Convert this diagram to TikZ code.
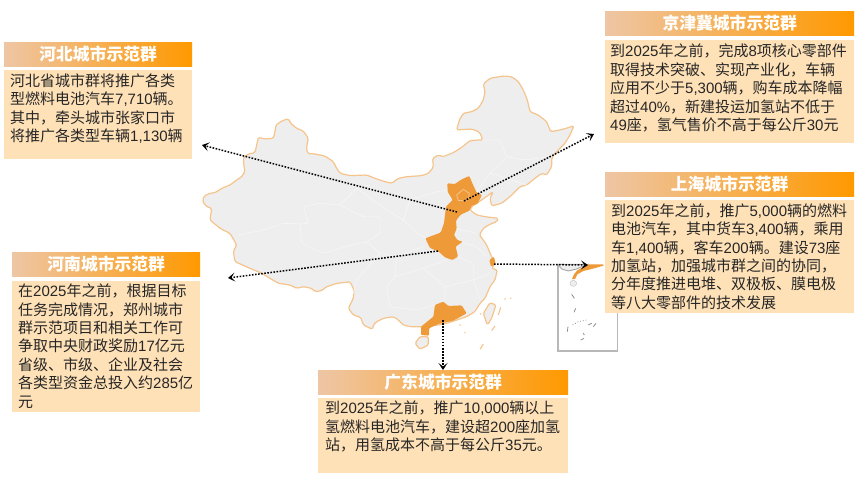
\documentclass[tikz,border=0pt]{standalone}
\usepackage{fontspec}
\setmainfont{Noto Sans CJK SC}
\newfontfamily\arialfont{Liberation Sans}
\newcommand{\nm}[1]{{\arialfont #1}}
\usetikzlibrary{arrows.meta,positioning}
\definecolor{headleft}{HTML}{EEC6A5}
\definecolor{headright}{HTML}{FF9900}
\definecolor{bodyfill}{HTML}{FFE1B7}
\definecolor{landfill}{HTML}{EEEEEE}
\definecolor{landedge}{HTML}{F5C48C}
\definecolor{cityfill}{HTML}{EE9A38}
\tikzset{
  headbox/.style={left color=headleft,right color=headright,draw=none,minimum height=24.5pt,inner sep=0pt,
    anchor=north west,text=white,font=\fontsize{16.8}{18}\selectfont\bfseries},
  bodybox/.style={fill=bodyfill,draw=none,inner sep=0pt,anchor=north west},
  bodytext/.style={anchor=north west,align=left,inner sep=0pt,text=black!85,font=\fontsize{15}{18.4}\selectfont},
  land/.style={fill=landfill,draw=landedge,line width=1.2pt,line join=round,rounded corners=1.5pt},
  border/.style={draw=white!96!black,line width=0.8pt,line join=round,rounded corners=1.5pt},
  city/.style={fill=cityfill,draw=none,rounded corners=1pt},
  islet/.style={draw=landedge,line width=1.1pt},
  insetmark/.style={draw=black!45,line width=0.8pt},
  link/.style={dash pattern=on 1.6pt off 1.5pt,line width=1.5pt,-{Stealth[length=7pt,width=9pt,inset=3.5pt]}}
}
\begin{document}
\begin{tikzpicture}[x=1pt,y=-1pt]
\useasboundingbox (0,0) rectangle (865,484);

% map, traced at 3x
\begin{scope}[shift={(190,60)},scale=1/3]
\draw[land] (38,425) -- (42,408) -- (60,400) -- (78,397) -- (95,385) -- (120,375) -- (140,360) -- (155,350) -- (165,335)
 -- (162,320) -- (160,292) -- (175,282) -- (195,278) -- (200,255) -- (205,232) -- (225,237) -- (250,235) -- (255,215)
 -- (258,195) -- (275,183) -- (295,176) -- (302,190) -- (320,205) -- (340,213) -- (355,235) -- (350,260) -- (352,280)
 -- (375,282) -- (405,288) -- (430,305) -- (440,325) -- (450,340) -- (480,347) -- (530,345) -- (555,355) -- (585,365)
 -- (605,370) -- (625,355) -- (650,350) -- (695,347) -- (715,340) -- (730,322) -- (728,295) -- (745,285) -- (760,290)
 -- (790,278) -- (815,262) -- (840,242) -- (865,240) -- (878,240) -- (870,218) -- (850,208) -- (825,208) -- (800,210)
 -- (808,180) -- (820,160) -- (845,155) -- (865,145) -- (880,120) -- (885,95) -- (880,72) -- (900,55) -- (940,48)
 -- (965,50) -- (985,65) -- (1000,90) -- (1012,120) -- (1020,155) -- (1045,165) -- (1070,185) -- (1082,215) -- (1110,210)
 -- (1135,203) -- (1152,197) -- (1140,225) -- (1125,250) -- (1095,280) -- (1085,295) -- (1085,320) -- (1070,345)
 -- (1055,340) -- (1035,355) -- (1010,375) -- (990,380) -- (960,410) -- (935,430) -- (905,438) -- (900,415) -- (910,395)
 -- (875,420) -- (845,440) -- (840,450) -- (860,465) -- (885,470) -- (925,475) -- (920,485) -- (895,495) -- (880,505)
 -- (868,525) -- (880,540) -- (890,555) -- (905,590) -- (915,610) -- (905,625) -- (922,630) -- (915,660) -- (900,680)
 -- (885,715) -- (870,730) -- (855,755) -- (830,770) -- (800,780) -- (770,790) -- (745,795) -- (700,800) -- (660,800)
 -- (640,795) -- (625,780) -- (610,770) -- (580,775) -- (560,785) -- (550,795) -- (548,808) -- (520,795) -- (512,772)
 -- (490,765) -- (475,745) -- (490,715) -- (492,690) -- (480,665) -- (460,668) -- (440,670) -- (410,680) -- (395,692)
 -- (375,695) -- (365,685) -- (340,680) -- (320,685) -- (300,675) -- (265,670) -- (240,655) -- (215,640) -- (180,625)
 -- (135,605) -- (130,575) -- (140,555) -- (120,520) -- (90,505) -- (60,480) -- (65,445) -- (50,440) -- cycle;
\draw[land] (675,850) -- (690,830) -- (715,830) -- (715,855) -- (690,868) -- cycle;
\draw[land] (880,760) -- (900,728) -- (918,735) -- (905,775) -- (892,795) -- cycle;
% islands
\draw[islet] (925,765) -- (932,742);
\draw[islet] (905,812) -- (915,798);
\draw[islet] (870,868) -- (880,852);
\foreach \x/\y in {945/717,962/715,810/795,825/818,872/762} \fill[landedge] (\x,\y) circle (2.5);
% provinces
\draw[border] (145,525) -- (220,510) -- (280,490) -- (330,492) -- (355,490) -- (340,440) -- (385,430) -- (450,435) -- (500,385) -- (540,375);
\draw[border] (330,492) -- (335,550) -- (400,580) -- (470,560) -- (530,545) -- (570,580) -- (620,590) -- (700,560);
\draw[border] (450,435) -- (520,470) -- (570,470) -- (570,520) -- (530,545);
\draw[border] (500,385) -- (590,450) -- (640,480) -- (680,520) -- (710,535);
\draw[border] (640,480) -- (660,420) -- (740,395) -- (775,390);
\draw[border] (570,580) -- (500,660) -- (490,700);
\draw[border] (620,590) -- (615,650) -- (590,680) -- (600,740) -- (680,750) -- (735,735);
\draw[border] (615,650) -- (700,625) -- (770,600);
\draw[border] (700,625) -- (765,680) -- (765,730);
\draw[border] (765,680) -- (850,660) -- (900,640);
\draw[border] (850,660) -- (870,715);
\draw[border] (815,548) -- (860,560) -- (890,590);
\draw[border] (800,590) -- (850,610) -- (850,660);
\draw[border] (798,505) -- (860,520);
\draw[border] (880,240) -- (930,240) -- (950,290) -- (1000,300) -- (1085,290);
\draw[border] (860,395) -- (900,340) -- (950,290);
\draw[border] (900,340) -- (1010,375);
% cities
\fill[city] (772,370) -- (795,372) -- (815,358) -- (838,348) -- (848,372) -- (860,398) -- (876,405) -- (862,432) -- (845,437)
 -- (838,452) -- (812,464) -- (798,482) -- (800,505) -- (792,525) -- (802,540) -- (818,545) -- (797,560) -- (804,590)
 -- (787,600) -- (765,592) -- (745,574) -- (720,564) -- (706,535) -- (752,518) -- (762,490) -- (768,440) -- (788,420)
 -- (773,395) -- cycle;
\draw[landedge,line width=0.8pt] (800,405) -- (820,388) -- (838,400) -- (835,420) -- (805,422) -- cycle;
\fill[city] (898,600) -- (912,590) -- (917,612) -- (903,620) -- cycle;
\fill[city] (735,735) -- (760,725) -- (775,738) -- (815,736) -- (830,760) -- (790,782) -- (745,792) -- (717,805) -- (717,827)
 -- (693,825) -- (693,800) -- (730,770) -- cycle;
\end{scope}

% south sea inset
\begin{scope}[shift={(550,255)},scale=1/3]
\draw[draw=black!28,line width=1.3pt] (24,28) -- (24,288) -- (203,288) -- (203,28);
\draw[fill=landfill,draw=black!35,line width=0.9pt] (24,28) -- (35,42) -- (55,48) -- (80,42) -- (112,28) -- cycle;
\fill[cityfill] (66,72) -- (72,58) -- (82,46) -- (100,36) -- (112,28) -- (160,28) -- (160,32) -- (125,42) -- (100,48) -- (82,58) -- (75,72) -- cycle;
\draw[fill=landfill,draw=black!25] (70,85) ellipse (10 and 9);
\draw[insetmark] (65,118) -- (73,130);
\draw[insetmark] (72,172) -- (77,160);
\draw[insetmark] (52,230) -- (54,215);
\draw[insetmark] (92,255) -- (102,250);
\draw[insetmark] (100,235) -- (103,240);
\draw[insetmark,dotted] (68,210) -- (85,200) -- (110,195);
\draw[insetmark] (115,210) -- (125,205);
\draw[insetmark] (130,215) -- (138,205);
\end{scope}

% city boxes
\node[headbox,minimum width=188pt] (hebeiHead) at (4,42) {河北城市示范群};
\node[bodybox,minimum width=188pt,minimum height=89pt,below=3pt of hebeiHead.south west,anchor=north west] (hebeiBody) {};
\node[bodytext,xshift=6pt,yshift=-3.5pt] (hebeiText) at (hebeiBody.north west) {河北省城市群将推广各类\\型燃料电池汽车\nm{7,710}辆。\\其中，牵头城市张家口市\\将推广各类型车辆\nm{1,130}辆};

\node[headbox,minimum width=188pt] (henanHead) at (12,252) {河南城市示范群};
\node[bodybox,minimum width=188pt,minimum height=131pt,below=3.5pt of henanHead.south west,anchor=north west] (henanBody) {};
\node[bodytext,xshift=6pt,yshift=-3.5pt] (henanText) at (henanBody.north west) {在\nm{2025}年之前，根据目标\\任务完成情况，郑州城市\\群示范项目和相关工作可\\争取中央财政奖励\nm{17}亿元\\省级、市级、企业及社会\\各类型资金总投入约\nm{285}亿\\元};

\node[headbox,minimum width=249pt] (jingHead) at (605,11) {京津冀城市示范群};
\node[bodybox,minimum width=249pt,minimum height=103pt,below=3.5pt of jingHead.south west,anchor=north west] (jingBody) {};
\node[bodytext,xshift=5pt,yshift=-4.5pt] (jingText) at (jingBody.north west) {到\nm{2025}年之前，完成\nm{8}项核心零部件\\取得技术突破、实现产业化，车辆\\应用不少于\nm{5,300}辆，购车成本降幅\\超过\nm{40\%}，新建投运加氢站不低于\\\nm{49}座，氢气售价不高于每公斤\nm{30}元};

\node[headbox,minimum width=249pt] (shanghaiHead) at (605,172) {上海城市示范群};
\node[bodybox,minimum width=249pt,minimum height=113pt,below=3pt of shanghaiHead.south west,anchor=north west] (shanghaiBody) {};
\node[bodytext,xshift=6pt,yshift=-3.5pt] (shanghaiText) at (shanghaiBody.north west) {到\nm{2025}年之前，推广\nm{5,000}辆的燃料\\电池汽车，其中货车\nm{3,400}辆，乘用\\车\nm{1,400}辆，客车\nm{200}辆。建设\nm{73}座\\加氢站，加强城市群之间的协同，\\分年度推进电堆、双极板、膜电极\\等八大零部件的技术发展};

\node[headbox,minimum width=250pt] (guangdongHead) at (318,370) {广东城市示范群};
\node[bodybox,minimum width=250pt,minimum height=75pt,below=3pt of guangdongHead.south west,anchor=north west] (guangdongBody) {};
\node[bodytext,xshift=7pt,yshift=-3pt] (guangdongText) at (guangdongBody.north west) {到\nm{2025}年之前，推广\nm{10,000}辆以上\\氢燃料电池汽车，建设超\nm{200}座加氢\\站，用氢成本不高于每公斤\nm{35}元。};

% arrows
\coordinate (hebeiFrom) at (457,212);
\coordinate (hebeiTo) at (202,145);
\coordinate (jingFrom) at (464,201);
\coordinate (jingTo) at (594,134);
\coordinate (henanFrom) at (438,251);
\coordinate (henanTo) at (228,278);
\coordinate (shanghaiFrom) at (494,264);
\coordinate (shanghaiTo) at (588,265);
\coordinate (guangdongFrom) at (443,320);
\draw[link] (hebeiFrom) -- (hebeiTo);
\draw[link] (jingFrom) -- (jingTo);
\draw[link] (henanFrom) -- (henanTo);
\draw[link] (shanghaiFrom) -- (shanghaiTo);
\draw[link] (guangdongFrom) -- (guangdongFrom |- guangdongHead.north);
\end{tikzpicture}
\end{document}
